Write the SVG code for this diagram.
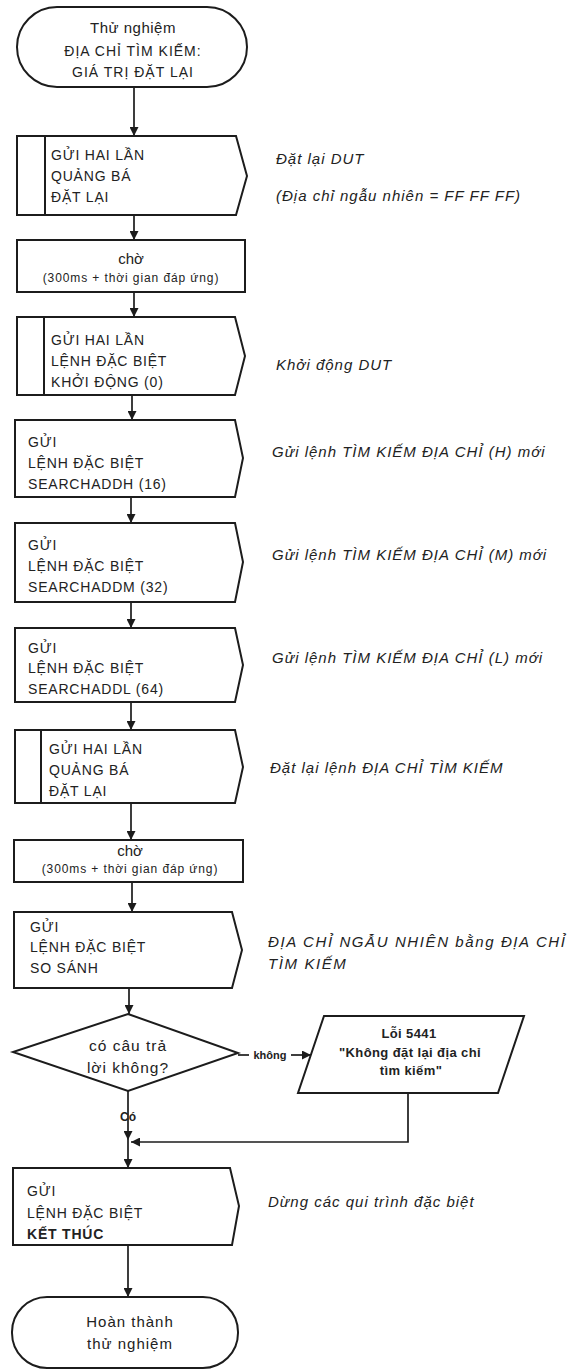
<svg xmlns="http://www.w3.org/2000/svg" width="576" height="1370" viewBox="0 0 576 1370">
<style>
.shape{fill:#fff;stroke:#1c1c1c;stroke-width:2}
.inner{stroke:#1c1c1c;stroke-width:2}
.conn{fill:none;stroke:#1c1c1c;stroke-width:1.7}
.t{font-family:"Liberation Sans","Noto Sans",Arial,sans-serif;fill:#222}
.box{font-size:14px;letter-spacing:0.8px}
.term{font-size:14px;letter-spacing:1px;text-anchor:middle}
.wait{font-size:15px;text-anchor:middle}
.small{font-size:12px;letter-spacing:0.9px;text-anchor:middle}
.note{font-size:15px;font-style:italic;letter-spacing:1px}
.dia{font-size:15.5px;letter-spacing:1px;text-anchor:middle}
.err{font-size:13px;font-weight:bold;letter-spacing:0.4px;text-anchor:middle}
.lbl{font-size:11px;font-weight:bold;text-anchor:middle}
</style>
<defs>
<marker id="arr" viewBox="0 0 10 10" refX="10" refY="5" markerWidth="9" markerHeight="9" markerUnits="userSpaceOnUse" orient="auto">
<path d="M0,0 L10,5 L0,10 Z" fill="#1c1c1c"/>
</marker>
</defs>

<g id="connectors">
<path class="conn" d="M134,87 V136" marker-end="url(#arr)"/>
<path class="conn" d="M134,215 V240" marker-end="url(#arr)"/>
<path class="conn" d="M134,292 V317" marker-end="url(#arr)"/>
<path class="conn" d="M132,395 V420" marker-end="url(#arr)"/>
<path class="conn" d="M131,497 V523" marker-end="url(#arr)"/>
<path class="conn" d="M131,602 V628" marker-end="url(#arr)"/>
<path class="conn" d="M131,702 V730" marker-end="url(#arr)"/>
<path class="conn" d="M131,803 V840" marker-end="url(#arr)"/>
<path class="conn" d="M132,882 V912" marker-end="url(#arr)"/>
<path class="conn" d="M129,988 V1014" marker-end="url(#arr)"/>
<path class="conn" d="M238,1055 H249"/>
<path class="conn" d="M291,1055 H311" marker-end="url(#arr)"/>
<path class="conn" d="M128,1091 V1140" marker-end="url(#arr)"/>
<path class="conn" d="M128,1140 V1168" marker-end="url(#arr)"/>
<path class="conn" d="M408,1093 V1142 H131" marker-end="url(#arr)"/>
<path class="conn" d="M128,1245 V1297" marker-end="url(#arr)"/>
<text class="t lbl" x="270" y="1059">không</text>
<text class="t lbl" x="128" y="1121" style="font-size:12px">Có</text>
</g>

<g id="start">
<rect class="shape" x="17" y="7" width="230" height="80" rx="40" ry="40"/>
<text class="t term" x="133" y="33" style="font-size:15px;letter-spacing:0.5px">Thử nghiệm</text>
<text class="t term" x="133" y="56">ĐỊA CHỈ TÌM KIẾM:</text>
<text class="t term" x="133" y="77">GIÁ TRỊ ĐẶT LẠI</text>
</g>

<g id="reset1">
<path class="shape" d="M17,136 H236 L247,176 L236,215 H17 Z"/>
<line class="inner" x1="45" y1="136" x2="45" y2="215"/>
<text class="t box" x="51" y="160">GỬI HAI LẦN</text>
<text class="t box" x="51" y="181">QUẢNG BÁ</text>
<text class="t box" x="51" y="202">ĐẶT LẠI</text>
<text class="t note" x="276" y="164">Đặt lại DUT</text>
<text class="t note" x="276" y="201">(Địa chỉ ngẫu nhiên = FF FF FF)</text>
</g>

<g id="wait1">
<rect class="shape" x="17" y="240" width="228" height="52"/>
<text class="t wait" x="131" y="264">chờ</text>
<text class="t small" x="131" y="282">(300ms + thời gian đáp ứng)</text>
</g>

<g id="start-cmd">
<path class="shape" d="M17,317 H235 L245,356 L235,395 H17 Z"/>
<line class="inner" x1="44" y1="317" x2="44" y2="395"/>
<text class="t box" x="51" y="345">GỬI HAI LẦN</text>
<text class="t box" x="51" y="366">LỆNH ĐẶC BIỆT</text>
<text class="t box" x="51" y="387">KHỞI ĐỘNG (0)</text>
<text class="t note" x="276" y="370">Khởi động  DUT</text>
</g>

<g id="searchh">
<path class="shape" d="M15,420 H235 L243,458 L235,497 H15 Z"/>
<text class="t box" x="28" y="447">GỬI</text>
<text class="t box" x="28" y="468">LỆNH ĐẶC BIỆT</text>
<text class="t box" x="28" y="489">SEARCHADDH (16)</text>
<text class="t note" x="272" y="457">Gửi lệnh TÌM KIẾM ĐỊA CHỈ (H) mới</text>
</g>

<g id="searchm">
<path class="shape" d="M15,523 H235 L243,562 L235,602 H15 Z"/>
<text class="t box" x="28" y="550">GỬI</text>
<text class="t box" x="28" y="571">LỆNH ĐẶC BIỆT</text>
<text class="t box" x="28" y="592">SEARCHADDM (32)</text>
<text class="t note" x="272" y="560">Gửi lệnh TÌM KIẾM ĐỊA CHỈ (M) mới</text>
</g>

<g id="searchl">
<path class="shape" d="M15,628 H235 L243,665 L235,702 H15 Z"/>
<text class="t box" x="28" y="653">GỬI</text>
<text class="t box" x="28" y="673">LỆNH ĐẶC BIỆT</text>
<text class="t box" x="28" y="694">SEARCHADDL (64)</text>
<text class="t note" x="272" y="663">Gửi lệnh TÌM KIẾM ĐỊA CHỈ (L) mới</text>
</g>

<g id="reset2">
<path class="shape" d="M15,730 H235 L243,767 L235,803 H15 Z"/>
<line class="inner" x1="41" y1="730" x2="41" y2="803"/>
<text class="t box" x="49" y="754">GỬI HAI LẦN</text>
<text class="t box" x="49" y="775">QUẢNG BÁ</text>
<text class="t box" x="49" y="796">ĐẶT LẠI</text>
<text class="t note" x="270" y="773">Đặt lại lệnh ĐỊA CHỈ TÌM KIẾM</text>
</g>

<g id="wait2">
<rect class="shape" x="14" y="840" width="229" height="42"/>
<text class="t wait" x="130" y="856">chờ</text>
<text class="t small" x="130" y="873">(300ms + thời gian đáp ứng)</text>
</g>

<g id="compare">
<path class="shape" d="M14,912 H232 L242,950 L232,988 H14 Z"/>
<text class="t box" x="30" y="932">GỬI</text>
<text class="t box" x="30" y="952">LỆNH ĐẶC BIỆT</text>
<text class="t box" x="30" y="973">SO SÁNH</text>
<text class="t note" x="268" y="947" style="letter-spacing:1.6px">ĐỊA CHỈ NGẪU NHIÊN bằng ĐỊA CHỈ</text>
<text class="t note" x="268" y="969" style="letter-spacing:1.6px">TÌM KIẾM</text>
</g>

<g id="decision">
<path class="shape" d="M128,1014 L238,1053 L128,1091 L13,1052 Z"/>
<text class="t dia" x="128" y="1051">có câu trả</text>
<text class="t dia" x="128" y="1073">lời không?</text>
</g>

<g id="error">
<path class="shape" d="M324,1016 L524,1016 L498,1093 L298,1093 Z"/>
<text class="t err" x="409" y="1038">Lỗi 5441</text>
<text class="t err" x="410" y="1057">"Không đặt lại địa chỉ</text>
<text class="t err" x="411" y="1075">tìm kiếm"</text>
</g>

<g id="end-cmd">
<path class="shape" d="M13,1168 H230 L239,1206 L232,1245 H13 Z"/>
<text class="t box" x="27" y="1196">GỬI</text>
<text class="t box" x="27" y="1218">LỆNH ĐẶC BIỆT</text>
<text class="t box" x="27" y="1239" style="font-weight:bold">KẾT THÚC</text>
<text class="t note" x="268" y="1207">Dừng các qui trình đặc biệt</text>
</g>

<g id="finish">
<rect class="shape" x="12" y="1297" width="226" height="71" rx="35" ry="35"/>
<text class="t term" x="130" y="1327" style="font-size:15px">Hoàn thành</text>
<text class="t term" x="130" y="1349" style="font-size:15px">thử nghiệm</text>
</g>
</svg>
